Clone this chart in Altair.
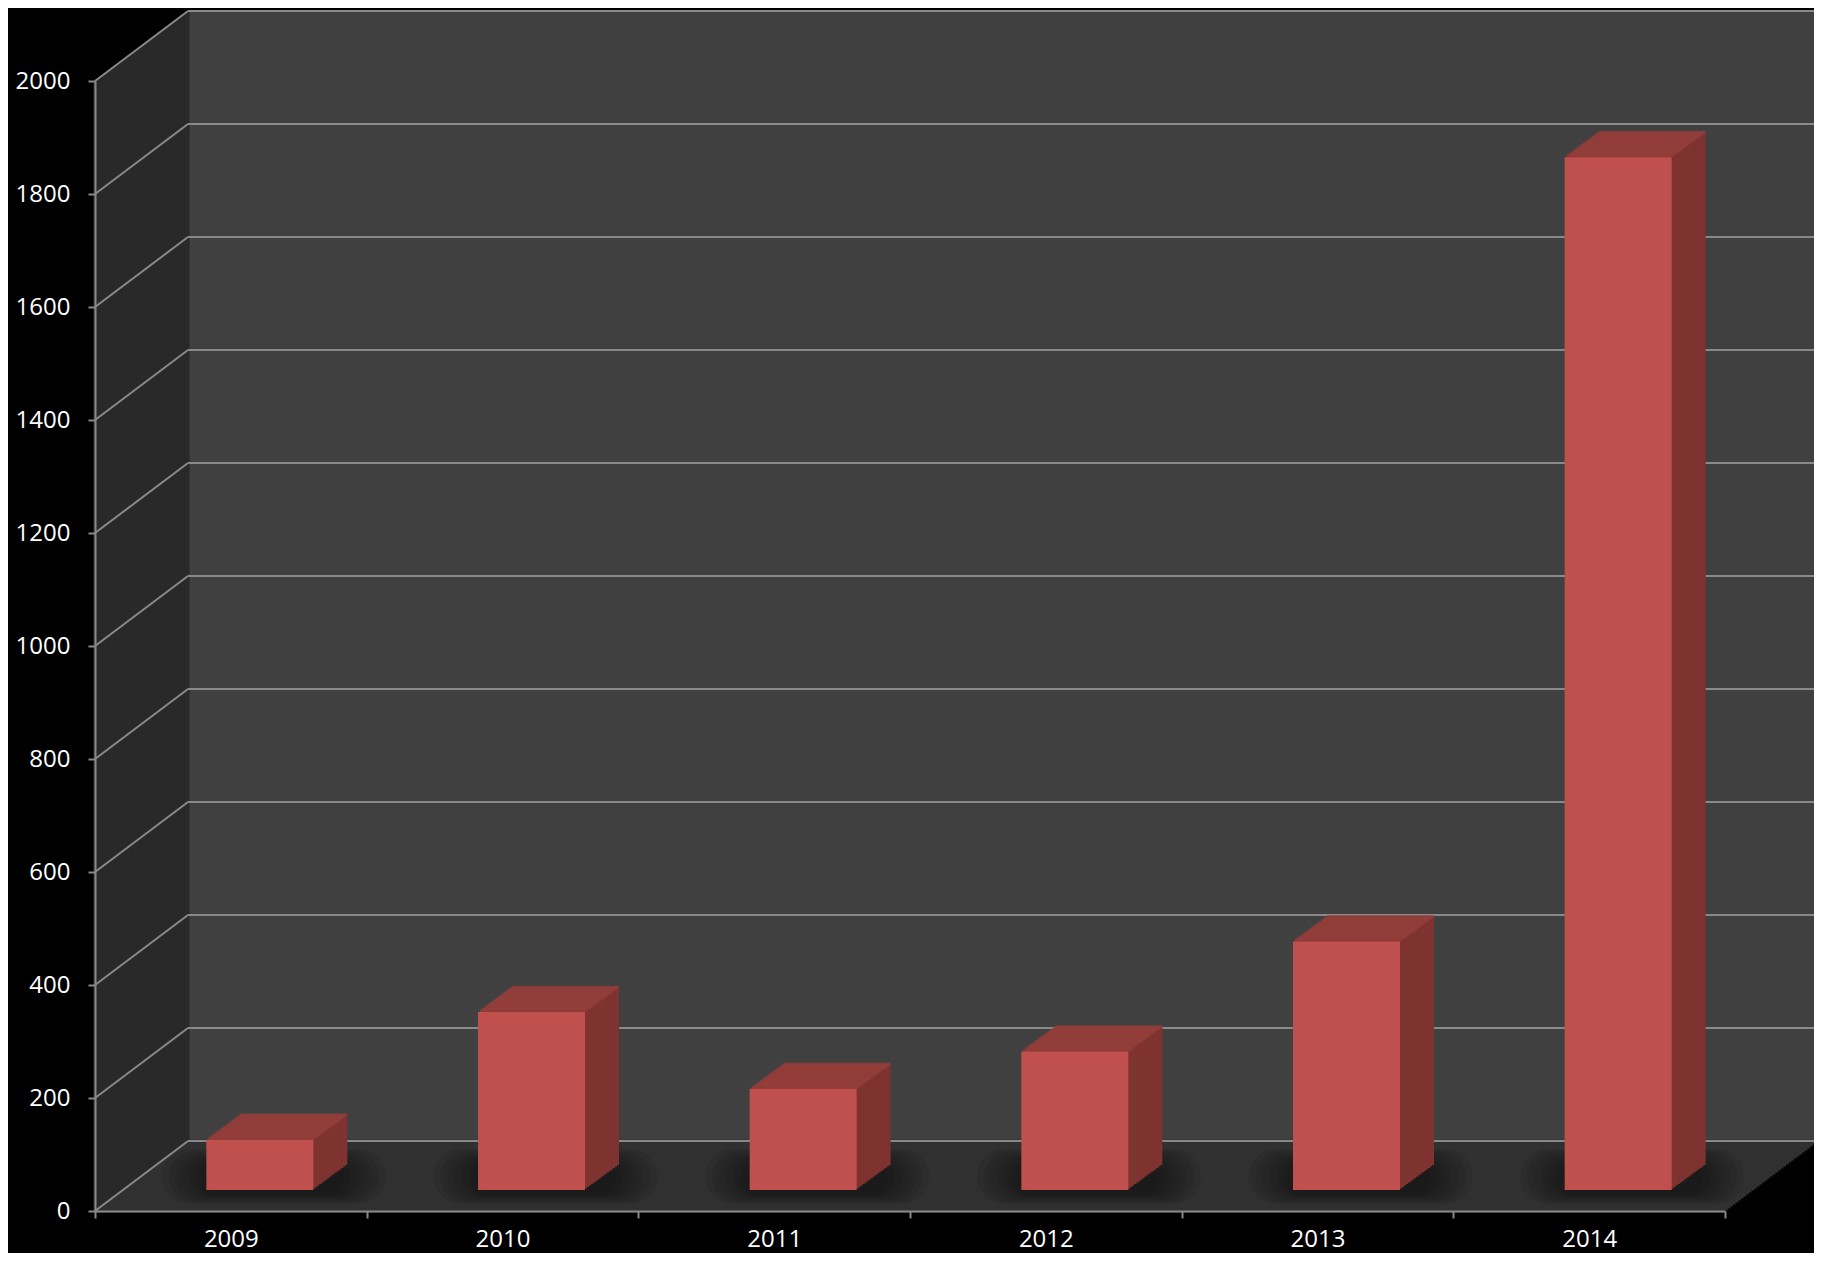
import altair as alt
import pandas as pd

# ---------------- data ----------------
years = ["2009", "2010", "2011", "2012", "2013", "2014"]
values = [89, 315, 179, 245, 440, 1828]
y_ticks = [0, 200, 400, 600, 800, 1000, 1200, 1400, 1600, 1800, 2000]

# ---------------- layout / style ----------------
W, H = 1630, 1130            # front-face plot area
DEPTH_X, DEPTH_Y = 93, 70    # depth of the 3-D walls (px)
BAR_W = 107
BAR_SHIFT_X, BAR_SHIFT_Y = 29, 21   # bars sit part-way into the floor
BAR_DX, BAR_DY = 34, 25             # depth of each bar

BACK = "#404040"
LEFT = "#292929"
FLOOR = "#303030"
GRID = "#898989"
FRONT = "#c0504d"
SIDE = "#7e3331"
TOP = "#963f3c"
FONT = "Open Sans"

bars = pd.DataFrame({"year": years, "value": values})
ticks = pd.DataFrame({"v": y_ticks})
one = pd.DataFrame({"k": [0]})

x_axis = alt.Axis(
    title=None, labelAngle=0, labelColor="white", labelFont=FONT,
    labelFontSize=24, labelBaseline="alphabetic", labelPadding=28,
    tickBand="extent", tickColor=GRID, tickSize=7, tickWidth=2,
    domainColor=GRID, domainWidth=2, grid=False, zindex=1
)
y_axis = alt.Axis(
    title=None, values=y_ticks, format="d", labelColor="white", labelFont=FONT,
    labelFontSize=24, labelPadding=18, tickColor=GRID, tickSize=7,
    tickWidth=2, domainColor=GRID, domainWidth=2, grid=False, zindex=1
)

xs = alt.Scale(domain=years, paddingInner=0, paddingOuter=0)
ys = alt.Scale(domain=[0, 2000], nice=False, zero=True)
X_bar = alt.X("year:N", scale=xs, axis=x_axis)
Y_bar = alt.Y("value:Q", scale=ys, axis=y_axis)


def ydat(v):
    return alt.YDatum(v, scale=ys, axis=y_axis)


layers = []

# back wall
layers.append(
    alt.Chart(one).mark_rect(
        color=BACK, xOffset=DEPTH_X, x2Offset=DEPTH_X,
        yOffset=-DEPTH_Y, y2Offset=-DEPTH_Y
    ).encode(
        x=alt.value(0), x2=alt.value(W),
        y=ydat(2000), y2=alt.Y2Datum(0)
    )
)

# left wall (swept along the depth)
n_left = 47
for i in range(n_left + 1):
    ox = i * DEPTH_X / n_left
    oy = -i * DEPTH_Y / n_left
    layers.append(
        alt.Chart(one).mark_rule(
            color=LEFT, strokeWidth=DEPTH_X / n_left + 1.2,
            xOffset=ox, x2Offset=ox, yOffset=oy, y2Offset=oy
        ).encode(
            x=alt.value(0),
            y=ydat(0), y2=alt.Y2Datum(2000)
        )
    )

# floor (swept along the depth)
n_floor = 35
for i in range(n_floor + 1):
    ox = i * DEPTH_X / n_floor
    oy = -i * DEPTH_Y / n_floor
    layers.append(
        alt.Chart(one).mark_rule(
            color=FLOOR, strokeWidth=DEPTH_Y / n_floor + 1.2,
            xOffset=ox, x2Offset=ox, yOffset=oy, y2Offset=oy
        ).encode(
            x=alt.value(0), x2=alt.value(W),
            y=ydat(0)
        )
    )

# gridlines on the back wall
layers.append(
    alt.Chart(ticks).mark_rule(
        color=GRID, strokeWidth=2,
        xOffset=DEPTH_X, x2Offset=DEPTH_X, yOffset=-DEPTH_Y, y2Offset=-DEPTH_Y
    ).encode(
        x=alt.value(0), x2=alt.value(W),
        y=alt.Y("v:Q", scale=ys, axis=y_axis)
    )
)

# diagonal gridlines on the left wall
layers.append(
    alt.Chart(ticks).mark_rule(
        color=GRID, strokeWidth=2, x2Offset=DEPTH_X, y2Offset=-DEPTH_Y
    ).encode(
        x=alt.value(0), x2=alt.value(0),
        y=alt.Y("v:Q", scale=ys, axis=y_axis), y2=alt.Y2("v:Q")
    )
)

# soft shadows on the floor
for k in range(7):
    w = 140 + 14 * k
    layers.append(
        alt.Chart(bars).mark_bar(
            color="black", opacity=0.07, width=w, cornerRadius=18 + 3 * k,
            xOffset=BAR_SHIFT_X + 14, x2Offset=BAR_SHIFT_X + 14,
            yOffset=-50 - 2 * k, y2Offset=-16 + 1.5 * k
        ).encode(
            x=X_bar,
            y=ydat(0), y2=alt.Y2Datum(0)
        )
    )

# bar depth: side face (swept copies)
n_bar = 17
for i in range(n_bar, 0, -1):
    ox = BAR_SHIFT_X + i * BAR_DX / n_bar
    oy = -BAR_SHIFT_Y - i * BAR_DY / n_bar
    layers.append(
        alt.Chart(bars).mark_bar(
            color=SIDE, width=BAR_W,
            xOffset=ox, x2Offset=ox, yOffset=oy, y2Offset=oy
        ).encode(x=X_bar, y=Y_bar)
    )

# bar depth: top face (swept top edge)
for i in range(1, n_bar + 1):
    ox = BAR_SHIFT_X + i * BAR_DX / n_bar
    oy = -BAR_SHIFT_Y - i * BAR_DY / n_bar
    layers.append(
        alt.Chart(bars).mark_tick(
            color=TOP, size=BAR_W, thickness=BAR_DY / n_bar + 1.2,
            orient="horizontal", xOffset=ox, yOffset=oy
        ).encode(x=X_bar, y=Y_bar)
    )

# front faces
layers.append(
    alt.Chart(bars).mark_bar(
        color=FRONT, width=BAR_W,
        xOffset=BAR_SHIFT_X, x2Offset=BAR_SHIFT_X,
        yOffset=-BAR_SHIFT_Y, y2Offset=-BAR_SHIFT_Y
    ).encode(x=X_bar, y=Y_bar)
)

chart = alt.layer(*layers).properties(
    width=W, height=H, background="#000000",
    padding={"left": 87, "top": 73, "right": 89, "bottom": 42},
    autosize=alt.AutoSizeParams(type="none")
).configure_view(stroke=None)

chart.save("out.html", embed_options={"renderer": "svg", "actions": False})
